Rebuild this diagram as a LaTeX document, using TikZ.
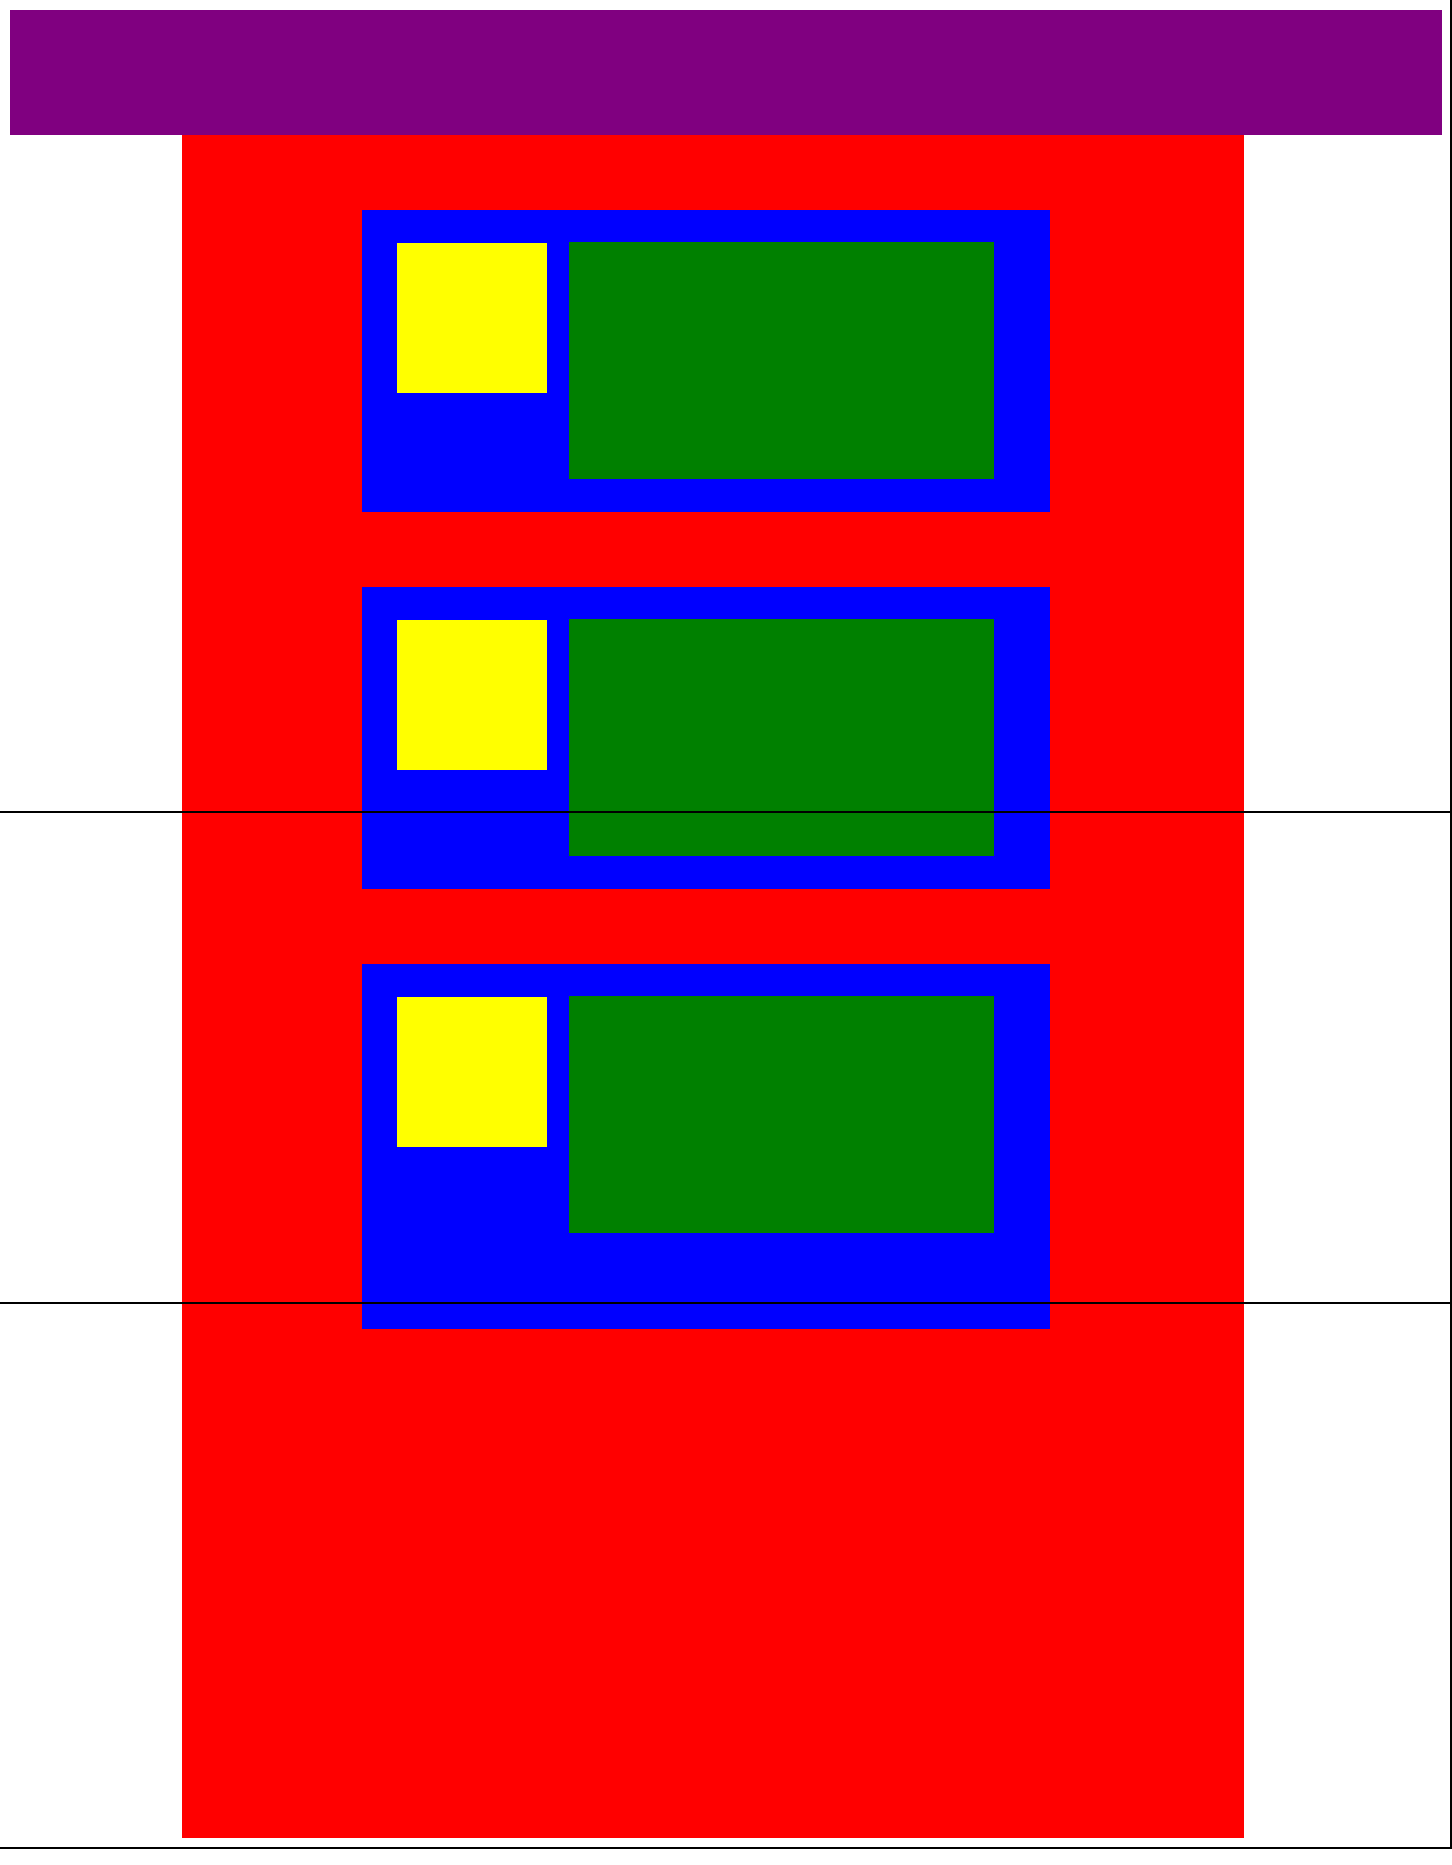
\documentclass[tikz,border=0pt]{standalone}
\usepackage{tikz}
\usetikzlibrary{calc}
\definecolor{barPurple}{RGB}{128,0,128}
\definecolor{bodyRed}{RGB}{255,0,0}
\definecolor{panelBlue}{RGB}{0,0,255}
\definecolor{iconYellow}{RGB}{255,255,0}
\definecolor{textGreen}{RGB}{0,128,0}
\tikzset{
  headerbar/.style={fill=barPurple},
  mainarea/.style={fill=bodyRed},
  panelbox/.style={fill=panelBlue},
  iconbox/.style={fill=iconYellow},
  contentbox/.style={fill=textGreen},
  guideline/.style={draw=black, line width=0.45pt}
}
\begin{document}
\begin{tikzpicture}[x=0.01cm, y=-0.01cm]
\useasboundingbox (0,0) rectangle (1452,1865);

% header and body
\path[headerbar] (10,10) rectangle (1442,135);
\path[mainarea] (182,135) rectangle (1244,1838);

% three panels
\foreach \ptop/\pbot in {210/512, 587/889, 964/1329}{
  \path[panelbox] (362,\ptop) rectangle (1050,\pbot);
  \path[iconbox] (397,\ptop+33) rectangle (547,\ptop+183);
  \path[contentbox] (569,\ptop+32) rectangle (994,\ptop+269);
}

% page guides
\coordinate (tr) at (1451,0);
\coordinate (br) at (1451,1848);
\coordinate (bl) at (0,1848);
\draw[guideline] (tr) -- (br) -- (bl);
\draw[guideline] (0,812) -- (1451,812);
\draw[guideline] (0,1303) -- (1451,1303);
\end{tikzpicture}
\end{document}
